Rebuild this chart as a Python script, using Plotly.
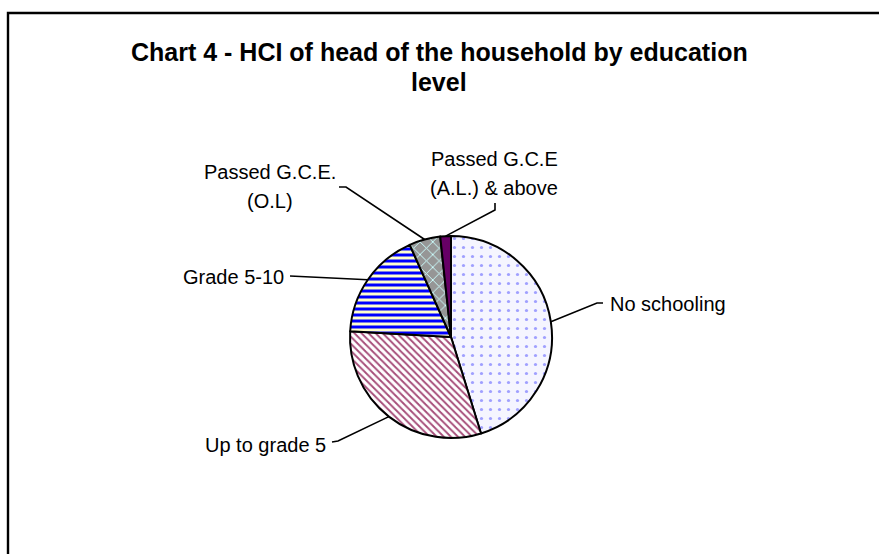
import math
import plotly.graph_objects as go

# ---- data ----
categories = ["No schooling", "Up to grade 5", "Grade 5-10",
              "Passed G.C.E. (O.L)", "Passed G.C.E (A.L.) & above"]
shares = [45.2, 30.7, 17.4, 5.0, 1.7]
label_lines = [["No schooling"], ["Up to grade 5"], ["Grade 5-10"],
               ["Passed G.C.E.", "(O.L)"], ["Passed G.C.E", "(A.L.) & above"]]
title_lines = ["Chart 4 - HCI of head of the household by education", "level"]

# ---- layout geometry (pixels) ----
W, H = 879, 554
CX, CY, R = 451, 337, 101
FONT = "Liberation Sans, Arial, sans-serif"

def px(x):
    return x / W

def py(y):
    return 1 - y / H

# label placement: (x, first-line y, xanchor, line-start point, elbow point)
label_layout = [
    dict(x=608, y=304, xanchor="left", start=(603, 303), elbow=(597, 303)),
    dict(x=328, y=445, xanchor="right", start=(332, 442), elbow=(338, 441)),
    dict(x=286, y=277, xanchor="right", start=(290, 276), elbow=(290, 276)),
    dict(x=270, y=172, xanchor="center", start=(339, 187), elbow=(346, 187)),
    dict(x=494, y=159, xanchor="center", start=(495, 203), elbow=(495, 210)),
]
LINE_GAP = 29
TITLE_Y = [52, 82]

patterns = [
    dict(shape=".", fgcolor="#a0a0ff", bgcolor="#f5f5ff", size=9, solidity=0.1),
    dict(shape="\\", fgcolor="#a64d79", bgcolor="#ffffff", size=5, solidity=0.38),
    dict(shape="-", fgcolor="#0000ff", bgcolor="#ffffcc", size=6, solidity=0.5),
    dict(shape="x", fgcolor="#ccffff", bgcolor="#969696", size=9, solidity=0.2),
    dict(shape="", fgcolor="#660066", bgcolor="#660066", size=6, solidity=0.2),
]
fill_colors = ["#f5f5ff", "#ffffff", "#ffffcc", "#969696", "#660066"]

fig = go.Figure()
fig.add_trace(go.Pie(
    labels=categories,
    values=shares,
    sort=False,
    direction="clockwise",
    rotation=0,
    textinfo="none",
    hoverinfo="label+percent",
    showlegend=False,
    marker=dict(colors=fill_colors,
                line=dict(color="black", width=2),
                pattern=dict(shape=[p["shape"] for p in patterns],
                             fgcolor=[p["fgcolor"] for p in patterns],
                             bgcolor=[p["bgcolor"] for p in patterns],
                             size=[p["size"] for p in patterns],
                             solidity=[p["solidity"] for p in patterns],
                             fillmode="replace")),
    domain=dict(x=[px(CX - R), px(CX + R)], y=[py(CY + R), py(CY - R)]),
))

annotations = []
shapes = []
total = sum(shares)
cum = 0.0
for val, lines, lay in zip(shares, label_lines, label_layout):
    mid = (cum + val / 2) / total
    cum += val
    th = 2 * math.pi * mid
    ex = CX + R * math.sin(th)
    ey = CY - R * math.cos(th)
    for i, t in enumerate(lines):
        annotations.append(dict(
            text=t, x=px(lay["x"]), y=py(lay["y"] + i * LINE_GAP),
            xref="paper", yref="paper", xanchor=lay["xanchor"], yanchor="middle",
            showarrow=False, font=dict(family=FONT, size=20, color="black")))
    sx, sy = lay["start"]
    bx, by = lay["elbow"]
    shapes.append(dict(
        type="path", xref="paper", yref="paper",
        path=f"M {px(sx)} {py(sy)} L {px(bx)} {py(by)} L {px(ex)} {py(ey)}",
        line=dict(color="black", width=1.6)))

for t, ty in zip(title_lines, TITLE_Y):
    annotations.append(dict(
        text=f"<b>{t}</b>", x=px(439), y=py(ty), xref="paper", yref="paper",
        xanchor="center", yanchor="middle", showarrow=False,
        font=dict(family=FONT, size=25, color="black")))

# chart frame (left and top edges visible)
shapes.append(dict(type="rect", xref="paper", yref="paper",
                   x0=px(8), x1=px(W + 20), y0=py(H + 20), y1=py(13),
                   line=dict(color="black", width=2.4), fillcolor="rgba(0,0,0,0)"))

fig.update_layout(
    width=W, height=H,
    margin=dict(l=0, r=0, t=0, b=0),
    paper_bgcolor="white",
    plot_bgcolor="white",
    annotations=annotations,
    shapes=shapes,
)

fig.write_html("out.html",
               config={"displayModeBar": False},
               post_script="document.body.style.margin='0px';"
                           "document.body.style.overflow='hidden';")
